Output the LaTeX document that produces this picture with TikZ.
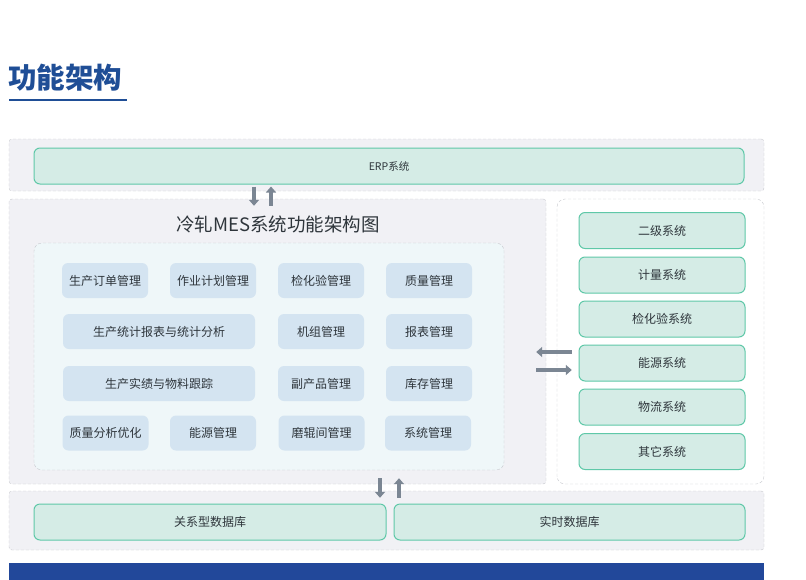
\documentclass[tikz,border=0pt]{standalone}
\usepackage{fontspec}
\setmainfont{Noto Sans CJK SC}
\usetikzlibrary{arrows.meta,positioning}

\definecolor{titleblue}{HTML}{1F4E96}
\definecolor{barblue}{HTML}{22489A}
\definecolor{bandfill}{HTML}{F1F1F5}
\definecolor{bandline}{HTML}{C6C8CD}
\definecolor{innerfill}{HTML}{EFF7F9}
\definecolor{tealfill}{HTML}{D5ECE6}
\definecolor{tealline}{HTML}{5FC8A8}
\definecolor{modfill}{HTML}{D4E4F1}
\definecolor{arrowgray}{HTML}{7B8693}
\definecolor{txt}{HTML}{2E353B}

\tikzset{
	band/.style={draw=bandline, dash pattern=on 3pt off 2pt, fill=bandfill, rounded corners=3pt, inner sep=0pt},
	sys/.style={draw=tealline, fill=tealfill, line width=1pt, rounded corners=6pt, minimum height=36pt, inner sep=0pt, text=txt, font=\fontsize{12}{14}\selectfont},
	mod/.style={fill=modfill, rounded corners=6pt, minimum height=35pt, inner sep=0pt, text=txt, font=\fontsize{12}{14}\selectfont},
	flow/.style={draw=arrowgray, line width=3.5pt, -{Triangle[width=10pt,length=6pt]}}
}

\begin{document}
\begin{tikzpicture}[x=1pt, y=-1pt]
	\useasboundingbox (0,0) rectangle (806,579);
	
	% title
	\node[anchor=west, inner sep=0pt, text=titleblue, font=\fontsize{28.5}{30}\selectfont\bfseries] (title) at (8,78) {功能架构};
	\draw[titleblue, line width=2pt] (9,100) -- (127,100);
	
	% ERP layer
	\node[band, minimum width=755pt, minimum height=52pt] (band1) at (386.5,165) {};
	\node[sys, minimum width=710pt, font=\fontsize{10.5}{12}\selectfont] (erp) at (389,166) {ERP系统};
	
	% MES panel
	\node[band, minimum width=537pt, minimum height=285pt] (mes) at (277.5,341.5) {};
	\node[text=txt, font=\fontsize{18.5}{20}\selectfont] (mestitle) at (278,224) {冷轧MES系统功能架构图};
	\node[draw=bandline, dash pattern=on 3pt off 2pt, fill=innerfill, rounded corners=8pt, minimum width=470pt, minimum height=227pt, inner sep=0pt] (inner) at (269,356.5) {};
	
	\node[mod, minimum width=86pt] (m1) at (105,280.5) {生产订单管理};
	\node[mod, minimum width=86pt] (m2) at (213,280.5) {作业计划管理};
	\node[mod, minimum width=86pt] (m3) at (321,280.5) {检化验管理};
	\node[mod, minimum width=86pt] (m4) at (429,280.5) {质量管理};
	
	\node[mod, minimum width=192pt] (m5) at (159,331.5) {生产统计报表与统计分析};
	\node[mod, minimum width=86pt] (m6) at (321,331.5) {机组管理};
	\node[mod, minimum width=86pt] (m7) at (429,331.5) {报表管理};
	
	\node[mod, minimum width=192pt] (m8) at (159,383.5) {生产实绩与物料跟踪};
	\node[mod, minimum width=86pt] (m9) at (321,383.5) {副产品管理};
	\node[mod, minimum width=86pt] (m10) at (429,383.5) {库存管理};
	
	\node[mod, minimum width=86pt] (m11) at (105.5,433) {质量分析优化};
	\node[mod, minimum width=86pt] (m12) at (213,433) {能源管理};
	\node[mod, minimum width=86pt] (m13) at (321.5,433) {磨辊间管理};
	\node[mod, minimum width=86pt] (m14) at (428,433) {系统管理};
	
	% external systems
	\node[band, fill=white, rounded corners=8pt, minimum width=207pt, minimum height=285pt] (ext) at (660.5,341.5) {};
	\node[sys, minimum width=166pt] (s1) at (662,230.5) {二级系统};
	\node[sys, minimum width=166pt] (s2) at (662,275) {计量系统};
	\node[sys, minimum width=166pt] (s3) at (662,319) {检化验系统};
	\node[sys, minimum width=166pt] (s4) at (662,363) {能源系统};
	\node[sys, minimum width=166pt] (s5) at (662,407) {物流系统};
	\node[sys, minimum width=166pt] (s6) at (662,451.5) {其它系统};
	
	% database layer
	\node[band, minimum width=755pt, minimum height=59pt] (band2) at (386.5,520.5) {};
	\node[sys, minimum width=352pt] (db1) at (210,522) {关系型数据库};
	\node[sys, minimum width=351pt] (db2) at (569.5,522) {实时数据库};
	
	\fill[barblue] (9,563) rectangle (764,580);
	
	% data flow
	\draw[flow, shorten <=2pt, shorten >=-7pt] ([xshift=-135pt]erp.south) -- ([xshift=-23.5pt]mes.north);
	\draw[flow, shorten <=-7pt, shorten >=2pt] ([xshift=-6.5pt]mes.north) -- ([xshift=-118pt]erp.south);
	\draw[flow, shorten <=-15pt, shorten >=-10pt] ([yshift=-10.5pt]ext.west) -- ([yshift=-10.5pt]mes.east);
	\draw[flow, shorten <=-10pt, shorten >=-15pt] ([yshift=-28.5pt]mes.east) -- ([yshift=-28.5pt]ext.west);
	\draw[flow, shorten <=-6pt, shorten >=-7pt] ([xshift=102.5pt]mes.south) -- ([xshift=-6.5pt]band2.north);
	\draw[flow, shorten <=-7pt, shorten >=-6pt] ([xshift=12.5pt]band2.north) -- ([xshift=121.5pt]mes.south);
\end{tikzpicture}
\end{document}
